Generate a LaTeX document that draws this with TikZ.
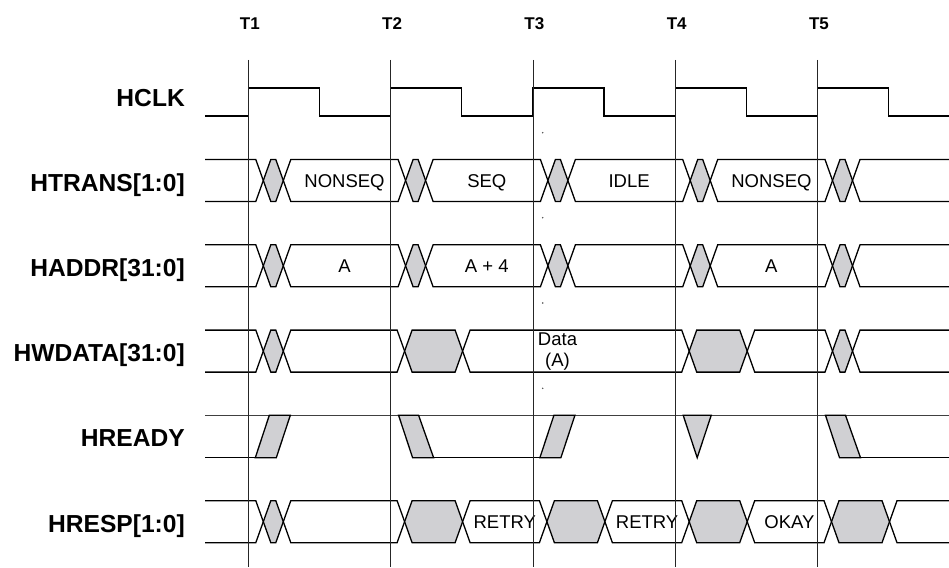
\documentclass[tikz,border=0pt]{standalone}
\usepackage{fontspec}
\setmainfont{Liberation Sans}
\usetikzlibrary{positioning}
\definecolor{busgrey}{RGB}{208,208,211}

\newcommand{\buscell}[4]{%
  \filldraw[sig, fill=#4] (#1,#3) -- ({#1+7.5},{#3-21}) -- ({#2-7.5},{#3-21})
    -- (#2,#3) -- ({#2-7.5},{#3+21}) -- ({#1+7.5},{#3+21}) -- cycle;}
\newcommand{\busopenl}[2]{%
  \draw[sig] (205,{#2-21}) -- ({#1-7.5},{#2-21}) -- (#1,#2)
    -- ({#1-7.5},{#2+21}) -- (205,{#2+21});}
\newcommand{\busopenr}[2]{%
  \draw[sig] (949,{#2-21}) -- ({#1+7.5},{#2-21}) -- (#1,#2)
    -- ({#1+7.5},{#2+21}) -- (949,{#2+21});}

\begin{document}
\begin{tikzpicture}[
  x=1pt, y=-1pt,
  sig/.style={line width=1.3pt, black},
  topline/.style={line width=1pt, black!75},
  grid/.style={line width=0.8pt, black!85},
  sname/.style={anchor=base east, inner sep=0pt,
                font=\fontsize{24.6}{29}\selectfont\bfseries},
  tlabel/.style={anchor=base, inner sep=0pt,
                 font=\fontsize{17}{20}\selectfont\bfseries},
  sigval/.style={anchor=base, inner sep=0pt,
                 font=\fontsize{18.5}{21}\selectfont},
]
\useasboundingbox (0,0) rectangle (949,567);

\node[sname] (hclk)   at (185,106.5) {HCLK};
\node[sname] (htrans) at (185,191.6) {HTRANS[1:0]};
\node[sname] (haddr)  at (185,276.7) {HADDR[31:0]};
\node[sname] (hwdata) at (185,361.8) {HWDATA[31:0]};
\node[sname] (hready) at (185,446.9) {HREADY};
\node[sname] (hresp)  at (185,532.0) {HRESP[1:0]};

\draw[sig] (205,116) \foreach \t in {248.3,390.6,532.9,675.2,817.5}
  { -- (\t,116) -- (\t,88) -- ({\t+71.15},88) -- ({\t+71.15},116) } -- (949,116);

\busopenl{263.3}{180.5}
\foreach \a/\b/\f in {263.3/283.3/busgrey, 283.3/405.6/white,
    405.6/425.6/busgrey, 425.6/547.9/white, 547.9/567.9/busgrey,
    567.9/690.2/white, 690.2/710.2/busgrey, 710.2/832.5/white,
    832.5/852.5/busgrey}
  {\buscell{\a}{\b}{180.5}{\f}}
\busopenr{852.5}{180.5}
\node[sigval] (tr1) at (344.5,187.1) {NONSEQ};
\node[sigval] (tr2) at (486.8,187.1) {SEQ};
\node[sigval] (tr3) at (629.1,187.1) {IDLE};
\node[sigval] (tr4) at (771.4,187.1) {NONSEQ};

\busopenl{263.3}{265.8}
\foreach \a/\b/\f in {263.3/283.3/busgrey, 283.3/405.6/white,
    405.6/425.6/busgrey, 425.6/547.9/white, 547.9/567.9/busgrey,
    567.9/690.2/white, 690.2/710.2/busgrey, 710.2/832.5/white,
    832.5/852.5/busgrey}
  {\buscell{\a}{\b}{265.8}{\f}}
\busopenr{852.5}{265.8}
\node[sigval] (ad1) at (344.5,272.4) {A};
\node[sigval] (ad2) at (486.8,272.4) {A + 4};
\node[sigval] (ad3) at (771.4,272.4) {A};

\busopenl{263.3}{351.1}
\foreach \a/\b/\f in {263.3/283.3/busgrey, 283.3/404.6/white,
    404.6/462.6/busgrey, 462.6/689.2/white, 689.2/747.2/busgrey,
    747.2/832.5/white, 832.5/852.5/busgrey}
  {\buscell{\a}{\b}{351.1}{\f}}
\busopenr{852.5}{351.1}
\node[inner sep=0pt, align=center, font=\fontsize{18.5}{21.5}\selectfont]
  (wd1) at (557.5,351.5) {Data\\(A)};

\draw[topline] (205,415.3) -- (949,415.3);
\draw[sig] (205,457.7) -- (255.3,457.7);
\draw[sig] (433.6,457.7) -- (539.9,457.7);
\draw[sig] (860.5,457.7) -- (949,457.7);
\foreach \t in {248.3,532.9}
  {\filldraw[sig, fill=busgrey] ({\t+7},457.7) -- ({\t+21},415.3)
     -- ({\t+42},415.3) -- ({\t+28},457.7) -- cycle;}
\foreach \t in {390.6,817.5}
  {\filldraw[sig, fill=busgrey] ({\t+8},415.3) -- ({\t+28},415.3)
     -- ({\t+43},457.7) -- ({\t+22},457.7) -- cycle;}
\filldraw[sig, fill=busgrey] (683.2,415.3) -- (711.2,415.3) -- (697.2,457.7) -- cycle;

\busopenl{263.3}{521.7}
\foreach \a/\b/\f in {263.3/283.3/busgrey, 283.3/404.6/white,
    404.6/462.6/busgrey, 462.6/546.9/white, 546.9/604.9/busgrey,
    604.9/689.2/white, 689.2/747.2/busgrey, 747.2/831.5/white,
    831.5/889.5/busgrey}
  {\buscell{\a}{\b}{521.7}{\f}}
\busopenr{889.5}{521.7}
\node[sigval] (rs1) at (504.8,528.3) {RETRY};
\node[sigval] (rs2) at (647.1,528.3) {RETRY};
\node[sigval] (rs3) at (789.4,528.3) {OKAY};

\foreach \y in {132.7,217.7,303,388.3}
  \fill[black!70] (542.7,\y) circle (0.8);

\foreach \t [count=\i] in {248.3,390.6,532.9,675.2,817.5}
  {\draw[grid] (\t,60) -- (\t,567);
   \node[tlabel] (t\i) at ({\t+1.5},30) {T\i};}
\end{tikzpicture}
\end{document}
